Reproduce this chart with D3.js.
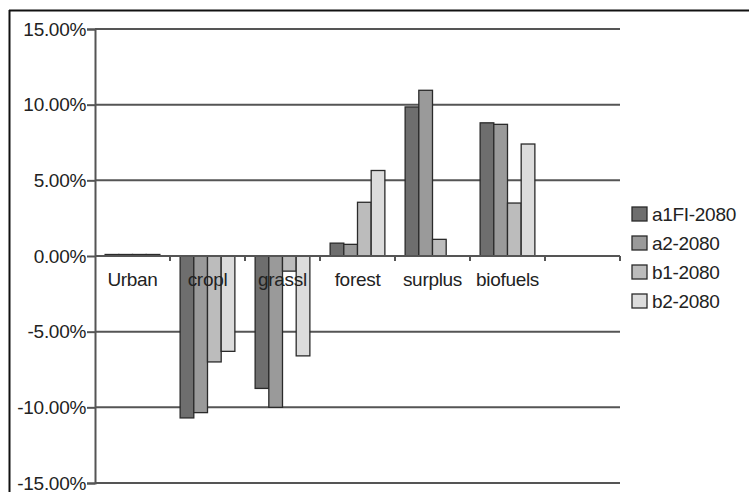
<!DOCTYPE html>
<html>
<head>
<meta charset="utf-8">
<script src="https://cdn.jsdelivr.net/npm/d3@7/dist/d3.min.js"></script>
<style>
  html, body { margin: 0; padding: 0; background: #fff; }
  svg { display: block; }
  text { font-family: "Liberation Sans", Arial, sans-serif; fill: #222; }
</style>
</head>
<body>
<svg id="chart" width="749" height="492"></svg>
<script>
// Land-use change by category and scenario (percent)
const categories = ["Urban", "cropl", "grassl", "forest", "surplus", "biofuels", ""];
const seriesNames = ["a1FI-2080", "a2-2080", "b1-2080", "b2-2080"];
const a1FI = [0.1, -10.7, -8.75, 0.85, 9.85, 8.8, 0];
const a2   = [0.1, -10.35, -10.0, 0.77, 10.95, 8.7, 0];
const b1   = [0.1, -7.0, -1.0, 3.55, 1.1, 3.5, 0];
const b2   = [0.1, -6.3, -6.6, 5.65, 0, 7.4, 0];
const yTicks = [15, 10, 5, 0, -5, -10, -15];
const seriesColors = ["#6e6e6e", "#9a9a9a", "#bcbcbc", "#dcdcdc"];

const series = [a1FI, a2, b1, b2];
const svg = d3.select("#chart");
const FONT = 19, SPACING = "-0.3px";

// outer frame (top and left edges visible)
svg.append("line").attr("x1", 9).attr("x2", 749).attr("y1", 10.5).attr("y2", 10.5)
  .attr("stroke", "#111").attr("stroke-width", 2);
svg.append("line").attr("x1", 9.5).attr("x2", 9.5).attr("y1", 10).attr("y2", 492)
  .attr("stroke", "#111").attr("stroke-width", 2);

const plot = { left: 95, right: 620, top: 29, bottom: 483 };

const y = d3.scaleLinear().domain([-15, 15]).range([plot.bottom, plot.top]);
const x0 = d3.scaleBand().domain(categories.map((c, i) => i))
  .range([plot.left, plot.right]).paddingInner(0.27).paddingOuter(0.135);
const x1 = d3.scaleBand().domain(d3.range(seriesNames.length))
  .range([0, x0.bandwidth()]);
const step = (plot.right - plot.left) / categories.length;

// horizontal gridlines
svg.append("g").selectAll("line").data(yTicks.filter(v => v !== 0)).join("line")
  .attr("x1", plot.left).attr("x2", plot.right)
  .attr("y1", d => y(d)).attr("y2", d => y(d))
  .attr("stroke", "#555").attr("stroke-width", 2);

// y axis, percent labels with a plain hyphen for negatives
const pct = d => d3.format(".2f")(d).replace("\u2212", "-") + "%";
const yAxis = d3.axisLeft(y).tickValues(yTicks).tickSize(8).tickPadding(1).tickFormat(pct);
const gy = svg.append("g").attr("transform", `translate(${plot.left},0)`).call(yAxis);
gy.select(".domain").attr("stroke", "#555").attr("stroke-width", 2);
gy.selectAll(".tick line").attr("stroke", "#555").attr("stroke-width", 2);
gy.selectAll(".tick text").attr("font-size", FONT).attr("letter-spacing", SPACING)
  .attr("fill", "#222").attr("font-family", "'Liberation Sans', Arial, sans-serif");

// bars
const groups = svg.append("g").selectAll("g").data(categories).join("g")
  .attr("transform", (d, i) => `translate(${x0(i)},0)`);
groups.selectAll("rect")
  .data((d, i) => series.map((s, k) => ({ k, v: s[i] })).filter(e => e.v !== 0))
  .join("rect")
  .attr("x", e => x1(e.k))
  .attr("width", x1.bandwidth())
  .attr("y", e => Math.min(y(e.v), y(0)))
  .attr("height", e => Math.abs(y(e.v) - y(0)))
  .attr("fill", e => seriesColors[e.k])
  .attr("stroke", "#2a2a2a").attr("stroke-width", 1.3);

// zero line with category ticks
svg.append("line").attr("x1", plot.left).attr("x2", plot.right)
  .attr("y1", y(0)).attr("y2", y(0)).attr("stroke", "#555").attr("stroke-width", 2);
svg.append("g").selectAll("line").data(d3.range(1, categories.length + 1)).join("line")
  .attr("x1", i => plot.left + i * step).attr("x2", i => plot.left + i * step)
  .attr("y1", y(0)).attr("y2", y(0) + 5)
  .attr("stroke", "#555").attr("stroke-width", 2);

// category labels just below the zero line
svg.append("g").selectAll("text").data(categories).join("text")
  .attr("x", (d, i) => plot.left + (i + 0.5) * step)
  .attr("y", y(0) + 30)
  .attr("text-anchor", "middle")
  .attr("font-size", FONT).attr("letter-spacing", SPACING)
  .text(d => d);

// legend
const legend = svg.append("g").selectAll("g").data(seriesNames).join("g")
  .attr("transform", (d, i) => `translate(632,${207 + i * 29})`);
legend.append("rect").attr("width", 15).attr("height", 14)
  .attr("fill", (d, i) => seriesColors[i]).attr("stroke", "#2a2a2a").attr("stroke-width", 1.3);
legend.append("text").attr("x", 20).attr("y", 14)
  .attr("font-size", FONT).attr("letter-spacing", SPACING).text(d => d);
</script>
</body>
</html>
